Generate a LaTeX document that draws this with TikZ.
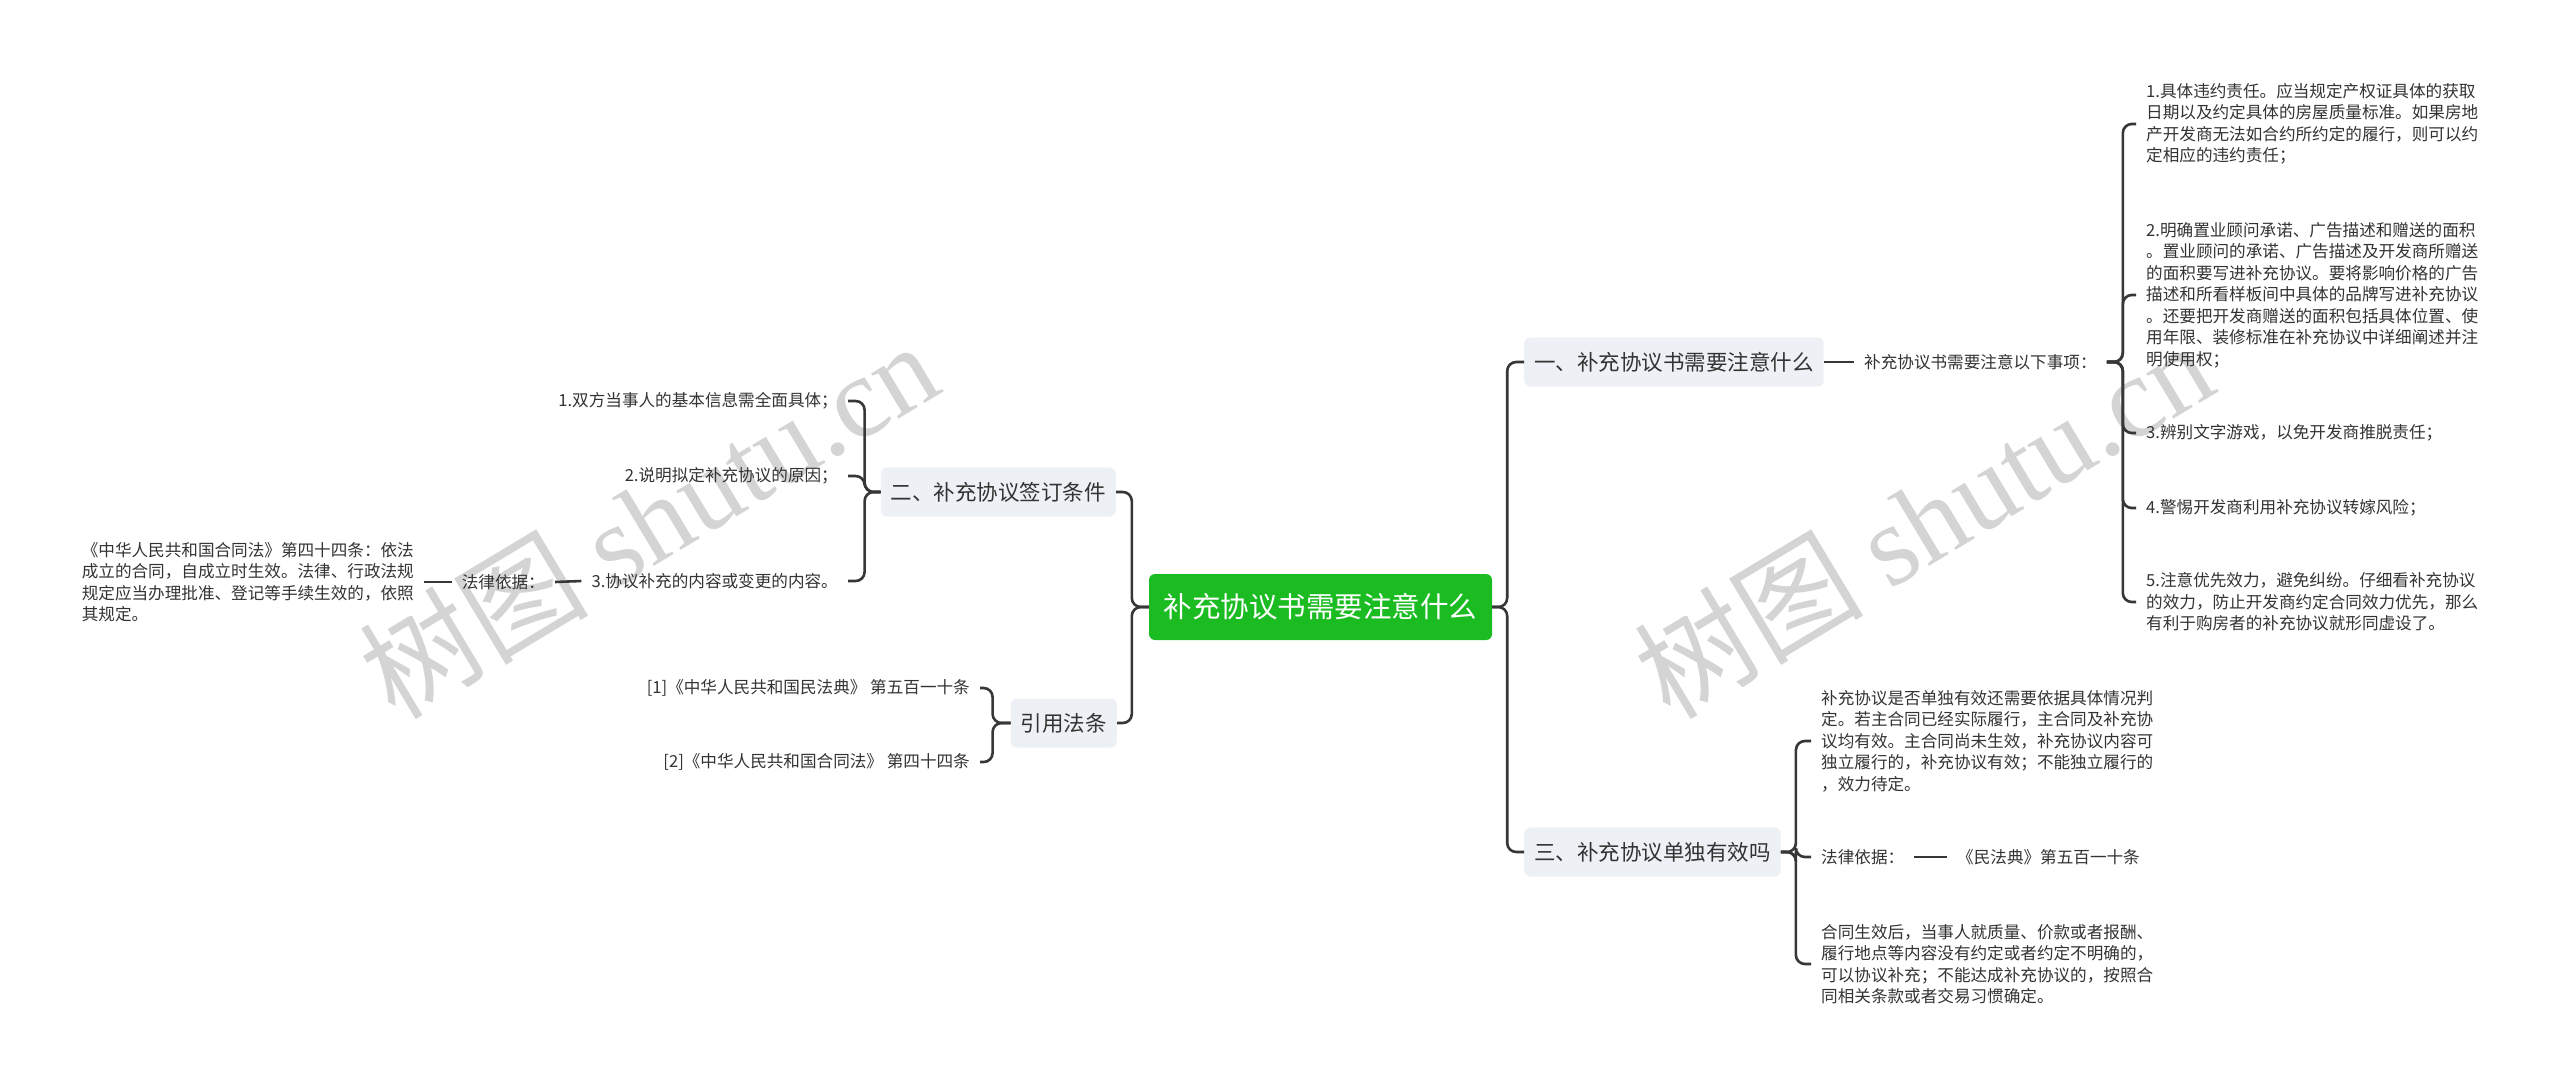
\documentclass[tikz,border=0pt]{standalone}
\usepackage{fontspec}
\setmainfont{Noto Sans CJK SC}
\newfontfamily\wmserif{Liberation Serif}
\definecolor{txt}{RGB}{51,51,51}
\definecolor{ln}{RGB}{55,55,55}
\definecolor{boxfill}{RGB}{237,240,244}
\definecolor{rootgreen}{RGB}{27,188,34}
\definecolor{wm}{RGB}{212,212,212}
\begin{document}
\begin{tikzpicture}[x=1pt,y=-1pt,
  rootbox/.style={fill=rootgreen, rounded corners=6pt, text=white, font=\fontsize{28.5}{34}\selectfont, minimum width=343pt, minimum height=66pt, inner sep=0pt},
  branch/.style={fill=boxfill, rounded corners=6pt, text=txt, font=\fontsize{21.5}{26}\selectfont, inner xsep=10pt, inner ysep=0pt, minimum height=49pt},
  leaf/.style={text=txt, font=\fontsize{16.6}{21.5}\selectfont, inner xsep=10pt, inner ysep=2pt},
  para/.style={leaf, align=left},
  conn/.style={draw=ln, line width=2.6pt, rounded corners=9pt},
  wmark/.style={text=wm, rotate=31, inner sep=0pt, font=\fontsize{115}{115}\selectfont}
]
\useasboundingbox (0,0) rectangle (2560,1087);
\fill[white] (0,0) rectangle (2560,1087);

% watermarks
\node[wmark] (wm1) at (648,519) {树图 {\wmserif shutu.cn}};
\node[wmark] (wm2) at (1923,519) {树图 {\wmserif shutu.cn}};

% root
\node[rootbox] (root) at (1320.5,607) {补充协议书需要注意什么};

% left branches
\node[branch, anchor=east] (er) at (1116,492) {二、补充协议签订条件};
\node[branch, anchor=east] (yin) at (1117,723) {引用法条};

\node[leaf, anchor=east] (c1) at (848,401) {1.双方当事人的基本信息需全面具体；};
\node[leaf, anchor=east] (c2) at (848,476) {2.说明拟定补充协议的原因；};
\node[leaf, anchor=east] (c3) at (848,581) {3.协议补充的内容或变更的内容。};
\node[leaf, anchor=east] (law1) at (555,582) {法律依据：};
\node[para, anchor=east] (p1) at (424,582) {《中华人民共和国合同法》第四十四条：依法\\成立的合同，自成立时生效。法律、行政法规\\规定应当办理批准、登记等手续生效的，依照\\其规定。};

\node[leaf, anchor=east] (r1) at (980,688) {[1]《中华人民共和国民法典》 第五百一十条};
\node[leaf, anchor=east] (r2) at (980,762) {[2]《中华人民共和国合同法》 第四十四条};

% right branches
\node[branch, anchor=west] (yi) at (1524,362) {一、补充协议书需要注意什么};
\node[branch, anchor=west] (san) at (1524,852) {三、补充协议单独有效吗};

\node[leaf, anchor=west] (note) at (1854,362) {补充协议书需要注意以下事项：};
\node[para, anchor=west] (i1) at (2136,124) {1.具体违约责任。应当规定产权证具体的获取\\日期以及约定具体的房屋质量标准。如果房地\\产开发商无法如合约所约定的履行，则可以约\\定相应的违约责任；};
\node[para, anchor=west] (i2) at (2136,295) {2.明确置业顾问承诺、广告描述和赠送的面积\\。置业顾问的承诺、广告描述及开发商所赠送\\的面积要写进补充协议。要将影响价格的广告\\描述和所看样板间中具体的品牌写进补充协议\\。还要把开发商赠送的面积包括具体位置、使\\用年限、装修标准在补充协议中详细阐述并注\\明使用权；};
\node[leaf, anchor=west] (i3) at (2136,433) {3.辨别文字游戏，以免开发商推脱责任；};
\node[leaf, anchor=west] (i4) at (2136,508) {4.警惕开发商利用补充协议转嫁风险；};
\node[para, anchor=west] (i5) at (2136,602) {5.注意优先效力，避免纠纷。仔细看补充协议\\的效力，防止开发商约定合同效力优先，那么\\有利于购房者的补充协议就形同虚设了。};

\node[para, anchor=west] (s1) at (1811,741) {补充协议是否单独有效还需要依据具体情况判\\定。若主合同已经实际履行，主合同及补充协\\议均有效。主合同尚未生效，补充协议内容可\\独立履行的，补充协议有效；不能独立履行的\\，效力待定。};
\node[leaf, anchor=west] (s2) at (1811,857) {法律依据：};
\node[leaf, anchor=west] (s2a) at (1947,857) {《民法典》第五百一十条};
\node[para, anchor=west] (s3) at (1811,964) {合同生效后，当事人就质量、价款或者报酬、\\履行地点等内容没有约定或者约定不明确的，\\可以协议补充；不能达成补充协议的，按照合\\同相关条款或者交易习惯确定。};

% connectors
\draw[conn] (root.west) -- ++(-17,0) |- (er.east);
\draw[conn] (root.west) -- ++(-17,0) |- (yin.east);
\draw[conn] (er.west) -- ++(-16,0) |- (c1.east);
\draw[conn] (er.west) -- ++(-16,0) |- (c2.east);
\draw[conn] (er.west) -- ++(-16,0) |- (c3.east);
\draw[conn] (c3.west) -- (law1.east);
\draw[conn] (law1.west) -- (p1.east);
\draw[conn] (yin.west) -- ++(-18,0) |- (r1.east);
\draw[conn] (yin.west) -- ++(-18,0) |- (r2.east);

\draw[conn] (root.east) -- ++(15,0) |- (yi.west);
\draw[conn] (root.east) -- ++(15,0) |- (san.west);
\draw[conn] (yi.east) -- (note.west);
\foreach \n in {i1,i2,i3,i4,i5}
  \draw[conn] (note.east) -- ++(16,0) |- (\n.west);
\foreach \n in {s1,s2,s3}
  \draw[conn] (san.east) -- ++(15,0) |- (\n.west);
\draw[conn] (s2.east) -- (s2a.west);
\end{tikzpicture}
\end{document}
